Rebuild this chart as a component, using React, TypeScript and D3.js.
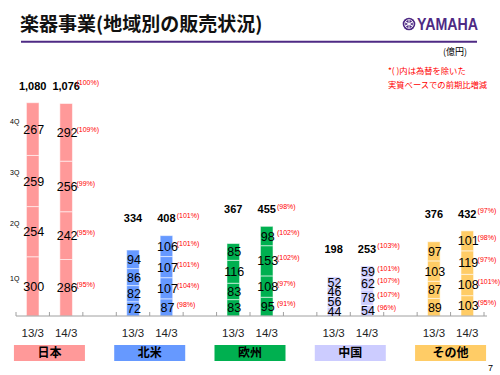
import React from "react";
import * as d3 from "d3";

const regions = ["日本", "北米", "欧州", "中国", "その他"];
const periods = ["13/3", "14/3"];
const quarterLabels = ["1Q", "2Q", "3Q", "4Q"];

// quarterly sales, bottom-up 1Q..4Q
const sales13 = [
  [300, 254, 259, 267],
  [72, 82, 86, 94],
  [83, 83, 116, 85],
  [44, 56, 46, 52],
  [89, 87, 103, 97],
];
const sales14 = [
  [286, 242, 256, 292],
  [87, 107, 107, 106],
  [95, 108, 153, 98],
  [54, 78, 62, 59],
  [103, 108, 119, 101],
];
const totals13 = [1080, 334, 367, 198, 376];
const totals14 = [1076, 408, 455, 253, 432];
// year-on-year change excluding FX, 1Q..4Q
const pct14 = [
  [95, 95, 99, 109],
  [98, 104, 101, 101],
  [91, 97, 102, 102],
  [96, 107, 107, 101],
  [95, 101, 97, 98],
];
const pctTotal14 = [100, 101, 98, 103, 97];

const regionColors = ["#ff9999", "#6699ff", "#00b050", "#ccccff", "#ffcc66"];

const W = 500;
const H = 375;
const NUM = "'Liberation Sans', Arial, sans-serif";
const JP = "'Noto Sans CJK JP', sans-serif";
const PURPLE = "#4e2a84";

export default function App() {
  const slots = d3.range(regions.length * 3 - 1);
  const x = d3
    .scaleBand<number>()
    .domain(slots)
    .range([16, 484])
    .paddingInner(0.623)
    .paddingOuter(0.3115);
  const step = x.step();
  const bw = x.bandwidth();
  const y = d3.scaleLinear().domain([0, 1080]).range([316, 102.7]);

  const fmt = d3.format(",");

  const bars: React.ReactNode[] = [];
  const labels: React.ReactNode[] = [];

  regions.forEach((reg, r) => {
    const groupMax = Math.max(totals13[r], totals14[r]);
    [sales13[r], sales14[r]].forEach((vals, p) => {
      const slot = r * 3 + p;
      const x0 = x(slot)!;
      const cx = x0 + bw / 2;
      const stacked = d3.cumsum(vals);
      vals.forEach((v, q) => {
        const y1 = y(stacked[q]);
        const y0 = y(stacked[q] - v);
        bars.push(
          <rect
            key={`b${r}-${p}-${q}`}
            x={x0}
            y={y1}
            width={bw}
            height={y0 - y1}
            fill={regionColors[r]}
            stroke="rgba(255,255,255,0.55)"
            strokeWidth={1}
          />
        );
        const cy = (y0 + y1) / 2;
        labels.push(
          <text
            key={`v${r}-${p}-${q}`}
            x={cx + 1}
            y={cy}
            dy="0.36em"
            textAnchor="middle"
            fontSize={12.5}
            fontFamily={NUM}
            fill="#000"
          >
            {v}
          </text>
        );
        if (p === 1) {
          labels.push(
            <text
              key={`p${r}-${q}`}
              x={x0 + bw + 4}
              y={cy - 3}
              dy="0.35em"
              fontSize={7}
              fontFamily={NUM}
              fill="#ff0000"
            >
              {`(${pct14[r][q]}%)`}
            </text>
          );
        }
        if (r === 0 && p === 0) {
          labels.push(
            <text
              key={`q${q}`}
              x={10}
              y={cy - 8}
              dy="0.35em"
              fontSize={7}
              fontFamily={NUM}
              fill="#000"
            >
              {quarterLabels[q]}
            </text>
          );
        }
      });
      const tot = p === 0 ? totals13[r] : totals14[r];
      const ty = Math.min(y(tot), y(groupMax)) - 17;
      labels.push(
        <text
          key={`t${r}-${p}`}
          x={cx}
          y={ty}
          dy="0.36em"
          textAnchor="middle"
          fontSize={11}
          fontWeight="bold"
          fontFamily={NUM}
          fill="#000"
        >
          {fmt(tot)}
        </text>
      );
      if (p === 1) {
        labels.push(
          <text
            key={`pt${r}`}
            x={x0 + bw + 4}
            y={ty - 3}
            dy="0.35em"
            fontSize={7}
            fontFamily={NUM}
            fill="#ff0000"
          >
            {`(${pctTotal14[r]}%)`}
          </text>
        );
      }
      labels.push(
        <text
          key={`x${r}-${p}`}
          x={cx}
          y={333}
          dy="0.36em"
          textAnchor="middle"
          fontSize={11.5}
          fontFamily={NUM}
          fill="#222"
        >
          {periods[p]}
        </text>
      );
    });
    const pairCenter = x(r * 3)! - (step - bw) / 2 + step;
    labels.push(
      <g key={`c${r}`}>
        <rect x={pairCenter - 35.5} y={345} width={71} height={16} fill={regionColors[r]} />
        <text
          x={pairCenter}
          y={353}
          dy="0.36em"
          textAnchor="middle"
          fontSize={12}
          fontWeight="bold"
          fontFamily={JP}
          fill="#000"
        >
          {reg}
        </text>
      </g>
    );
  });

  const tickXs = d3.range(slots.length + 1).map((i) => 16 + i * step);

  return (
    <svg
      width={W}
      height={H}
      viewBox={`0 0 ${W} ${H}`}
      style={{ position: "absolute", left: 0, top: 0, background: "#fff" }}
    >
      <rect width={W} height={H} fill="#fff" />
      <text x={20} y={31} fontSize={19} fontWeight="bold" fontFamily={JP} fill="#111">
        楽器事業(地域別の販売状況)
      </text>
      <line x1={21} x2={477} y1={41.7} y2={41.7} stroke={PURPLE} strokeWidth={2} />
      {/* YAMAHA logo */}
      <g transform="translate(409,24)">
        <circle r={6.3} fill={PURPLE} />
        <circle r={4.3} fill="none" stroke="#fff" strokeWidth={0.8} />
        {[0, 60, 120].map((a) => (
          <line
            key={a}
            x1={0}
            y1={-4.5}
            x2={0}
            y2={4.5}
            stroke="#fff"
            strokeWidth={0.9}
            transform={`rotate(${a})`}
          />
        ))}
      </g>
      <text
        x={417}
        y={30}
        fontSize={16}
        fontWeight="bold"
        fontFamily={NUM}
        fill={PURPLE}
        textLength={61}
        lengthAdjust="spacingAndGlyphs"
      >
        YAMAHA
      </text>
      <text x={443} y={55} fontSize={9} fontFamily={JP} fill="#000">
        (億円)
      </text>
      <text x={388} y={74} fontSize={8.3} fontFamily={JP} fill="#ff0000">
        *( )内は為替を除いた
      </text>
      <text x={388} y={88} fontSize={8.3} fontFamily={JP} fill="#ff0000">
        実質ベースでの前期比増減
      </text>

      {bars}

      <line x1={16} x2={487} y1={316} y2={316} stroke="#a0a0a0" strokeWidth={1} />
      {tickXs.map((tx, i) => (
        <line key={i} x1={tx} x2={tx} y1={312} y2={316} stroke="#a0a0a0" strokeWidth={1} />
      ))}

      {labels}

      <text x={488} y={371} fontSize={9} fontFamily={NUM} fill="#000">
        7
      </text>
    </svg>
  );
}
